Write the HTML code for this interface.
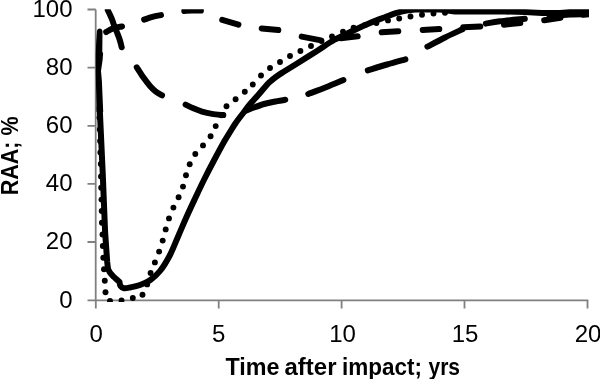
<!DOCTYPE html>
<html>
<head>
<meta charset="utf-8">
<title>RAA vs time after impact</title>
<style>
html,body{margin:0;padding:0;background:#fff;}
body{width:600px;height:379px;overflow:hidden;}
svg{display:block;}
text{font-family:"Liberation Sans","DejaVu Sans",sans-serif;fill:#000;}
.tick{font-size:24px;}
.title{font-size:23px;font-weight:bold;}
.ax{stroke:#808080;stroke-width:1.8;fill:none;}
.ln{stroke:#000;stroke-width:6.0;fill:none;stroke-linecap:round;stroke-linejoin:round;}
</style>
</head>
<body>
<svg width="600" height="379" viewBox="0 0 600 379">
<rect x="0" y="0" width="600" height="379" fill="#fff"/>
<defs>
<clipPath id="plot"><rect x="95.4" y="9.3" width="493.6" height="292.6"/></clipPath>
</defs>

<!-- axes -->
<g class="ax">
<path d="M95.7 9.5V300.3"/>
<path d="M87.5 9.5H95.8M87.5 67.6H95.8M87.5 125.8H95.8M87.5 183.9H95.8M87.5 242.0H95.8M87.5 300.3H95.8"/>
<path d="M95 300.3H588.3"/>
<path d="M95.8 300.3V308.5M218.7 300.3V308.5M341.6 300.3V308.5M464.5 300.3V308.5M587.5 300.3V308.5"/>
</g>

<!-- y tick labels -->
<g class="tick" text-anchor="end">
<text x="72.5" y="16.8">100</text>
<text x="72.5" y="74.9">80</text>
<text x="72.5" y="133.1">60</text>
<text x="72.5" y="191.2">40</text>
<text x="72.5" y="249.3">20</text>
<text x="72.5" y="307.6">0</text>
</g>
<!-- x tick labels -->
<g class="tick" text-anchor="middle">
<text x="96.3" y="341.5">0</text>
<text x="218.7" y="341.5">5</text>
<text x="342.5" y="341.5">10</text>
<text x="465.0" y="341.5">15</text>
<text x="588.0" y="341.5">20</text>
</g>
<text class="title" y="375"><tspan x="225.5" textLength="54" lengthAdjust="spacingAndGlyphs">Time</tspan><tspan x="284.5" textLength="52" lengthAdjust="spacingAndGlyphs">after</tspan><tspan x="342" textLength="80" lengthAdjust="spacingAndGlyphs">impact;</tspan><tspan x="428.5" textLength="31.5" lengthAdjust="spacingAndGlyphs">yrs</tspan></text>
<text class="title" transform="translate(18,195.3) rotate(-90)" textLength="79" lengthAdjust="spacingAndGlyphs">RAA; %</text>

<g clip-path="url(#plot)">
<!-- long dashed series -->
<g class="ln" id="longdash">
<path d="M107.80 10.30 C108.18 11.08 109.35 13.38 110.10 15.00 C110.85 16.62 111.72 18.50 112.30 20.00 C112.88 21.50 112.85 22.00 113.60 24.00 C114.35 26.00 115.77 29.33 116.80 32.00 C117.83 34.67 118.98 37.45 119.80 40.00 C120.62 42.55 121.38 46.08 121.70 47.30"/>
<path d="M136.80 67.30 C137.88 68.97 141.10 74.18 143.30 77.30 C145.50 80.42 147.97 83.67 150.00 86.00 C152.03 88.33 153.50 89.75 155.50 91.30 C157.50 92.85 160.92 94.63 162.00 95.30"/>
<path d="M185.60 104.60 C187.00 105.27 191.27 107.43 194.00 108.60 C196.73 109.77 199.00 110.72 202.00 111.60 C205.00 112.48 208.45 113.32 212.00 113.90 C215.55 114.48 221.42 114.90 223.30 115.10"/>
<path d="M246.50 110.50 C247.58 110.05 250.08 108.88 253.00 107.80 C255.92 106.72 260.50 105.02 264.00 104.00 C267.50 102.98 270.45 102.40 274.00 101.70 C277.55 101.00 283.42 100.12 285.30 99.80"/>
<path d="M308.30 94.00 C311.25 92.88 320.15 89.63 326.00 87.30 C331.85 84.97 340.50 81.22 343.40 80.00"/>
<path d="M367.80 70.40 C371.00 69.42 380.73 66.35 387.00 64.50 C393.27 62.65 402.33 60.17 405.40 59.30"/>
<path d="M427.40 46.70 C430.33 45.17 439.15 40.40 445.00 37.50 C450.85 34.60 459.58 30.67 462.50 29.30"/>
<path d="M485.80 23.60 C488.17 23.22 493.50 22.10 500.00 21.30 C506.50 20.50 520.67 19.22 524.80 18.80"/>
<path d="M549.70 16.30 C553.08 16.00 562.95 14.92 570.00 14.50 C577.05 14.08 588.33 13.92 592.00 13.80"/>
</g>
<!-- short dashed series -->
<g class="ln" id="shortdash">
<path d="M106.20 32.00 C107.33 31.40 110.37 29.32 113.00 28.40 C115.63 27.48 120.50 26.82 122.00 26.50"/>
<path d="M144.10 19.60 C145.50 19.15 149.68 17.65 152.50 16.90 C155.32 16.15 159.58 15.40 161.00 15.10"/>
<path d="M184.30 11.00 C185.58 10.92 189.23 10.57 192.00 10.50 C194.77 10.43 199.42 10.58 200.90 10.60"/>
<path d="M222.20 19.80 L238.40 24.60"/>
<path d="M261.70 28.40 L278.30 30.10"/>
<path d="M301.70 36.60 L321.00 40.40"/>
<path d="M340.70 38.30 L357.70 36.30"/>
<path d="M381.70 32.20 L398.30 31.20"/>
<path d="M422.70 29.90 L439.30 29.10"/>
<path d="M463.30 27.30 L480.30 26.50"/>
<path d="M504.00 24.70 L520.30 23.00"/>
<path d="M544.20 20.30 L560.50 17.80"/>
<path d="M583.00 14.80 L595.00 13.50"/>
</g>
<!-- dotted series -->
<g fill="#000" id="dots">
<circle cx="99.5" cy="117.6" r="2.95"/>
<circle cx="99.8" cy="129.4" r="2.95"/>
<circle cx="100.1" cy="141.0" r="2.95"/>
<circle cx="100.4" cy="152.5" r="2.95"/>
<circle cx="100.8" cy="164.0" r="2.95"/>
<circle cx="101.0" cy="176.4" r="2.95"/>
<circle cx="101.2" cy="187.7" r="2.95"/>
<circle cx="101.5" cy="199.6" r="2.95"/>
<circle cx="101.7" cy="211.0" r="2.95"/>
<circle cx="101.9" cy="222.7" r="2.95"/>
<circle cx="102.5" cy="234.5" r="2.95"/>
<circle cx="102.8" cy="246.0" r="2.95"/>
<circle cx="103.3" cy="257.8" r="2.95"/>
<circle cx="104.0" cy="269.2" r="2.95"/>
<circle cx="104.8" cy="280.8" r="2.95"/>
<circle cx="105.5" cy="292.3" r="2.95"/>
<circle cx="110.0" cy="301.0" r="2.95"/>
<circle cx="121.5" cy="300.5" r="2.95"/>
<circle cx="132.8" cy="298.0" r="2.95"/>
<circle cx="142.5" cy="294.8" r="2.95"/>
<circle cx="147.2" cy="284.4" r="2.95"/>
<circle cx="150.6" cy="273.0" r="2.95"/>
<circle cx="154.9" cy="262.4" r="2.95"/>
<circle cx="159.1" cy="251.6" r="2.95"/>
<circle cx="162.7" cy="240.6" r="2.95"/>
<circle cx="165.7" cy="229.4" r="2.95"/>
<circle cx="169.0" cy="218.4" r="2.95"/>
<circle cx="173.4" cy="207.6" r="2.95"/>
<circle cx="178.6" cy="197.3" r="2.95"/>
<circle cx="183.0" cy="186.6" r="2.95"/>
<circle cx="186.0" cy="175.3" r="2.95"/>
<circle cx="189.7" cy="164.3" r="2.95"/>
<circle cx="195.3" cy="154.0" r="2.95"/>
<circle cx="203.0" cy="145.4" r="2.95"/>
<circle cx="210.6" cy="136.2" r="2.95"/>
<circle cx="215.7" cy="126.1" r="2.95"/>
<circle cx="221.6" cy="115.2" r="2.95"/>
<circle cx="226.5" cy="106.3" r="2.95"/>
<circle cx="235.6" cy="99.2" r="2.95"/>
<circle cx="244.8" cy="91.8" r="2.95"/>
<circle cx="252.8" cy="84.5" r="2.95"/>
<circle cx="261.0" cy="75.5" r="2.95"/>
<circle cx="270.0" cy="68.0" r="2.95"/>
<circle cx="280.0" cy="62.0" r="2.95"/>
<circle cx="290.0" cy="56.0" r="2.95"/>
<circle cx="300.4" cy="51.0" r="2.95"/>
<circle cx="311.0" cy="46.0" r="2.95"/>
<circle cx="321.5" cy="41.0" r="2.95"/>
<circle cx="332.0" cy="36.4" r="2.95"/>
<circle cx="343.0" cy="31.6" r="2.95"/>
<circle cx="353.6" cy="27.6" r="2.95"/>
<circle cx="365.0" cy="25.0" r="2.95"/>
<circle cx="376.4" cy="23.0" r="2.95"/>
<circle cx="388.0" cy="20.4" r="2.95"/>
<circle cx="399.2" cy="18.5" r="2.95"/>
<circle cx="410.5" cy="16.5" r="2.95"/>
<circle cx="422.0" cy="14.7" r="2.95"/>
<circle cx="433.5" cy="13.5" r="2.95"/>
<circle cx="445.0" cy="12.8" r="2.95"/>
</g>
<!-- solid series -->
<g id="solid">
<path fill="#000" d="M96.9 31.4 C97 27.4 102.4 27.4 102.5 31.4 L102.3 52 L103.1 53 L102.6 60 L101 71 L101.9 81 L103.2 112 L96.6 112 L96.2 93 L95.6 71 L95.6 55 L96.2 42 Z"/>
<path class="ln" d="M99.70 108.00 L102.75 174.00 L105.10 232.00 L107.20 262.00 L108.00 269.00 C108.42 269.72 109.50 271.97 110.50 273.30 C111.50 274.63 112.92 275.92 114.00 277.00 C115.08 278.08 116.08 278.97 117.00 279.80 C117.92 280.63 119.08 281.63 119.50 282.00 C119.67 282.67 119.75 284.97 120.50 286.00 C121.25 287.03 122.42 287.95 124.00 288.20 C125.58 288.45 127.33 288.03 130.00 287.50 C132.67 286.97 136.67 286.22 140.00 285.00 C143.33 283.78 146.67 282.53 150.00 280.20 C153.33 277.87 156.67 275.20 160.00 271.00 C163.33 266.80 166.95 260.83 170.00 255.00 C173.05 249.17 175.55 242.33 178.30 236.00 C181.05 229.67 183.67 223.33 186.50 217.00 C189.33 210.67 192.32 204.33 195.30 198.00 C198.28 191.67 201.25 185.33 204.40 179.00 C207.55 172.67 210.85 166.33 214.20 160.00 C217.55 153.67 221.87 145.67 224.50 141.00 C227.13 136.33 228.13 135.00 230.00 132.00 C231.87 129.00 233.37 126.33 235.70 123.00 C238.03 119.67 241.73 115.00 244.00 112.00 C246.27 109.00 246.93 107.83 249.30 105.00 C251.67 102.17 255.33 98.30 258.20 95.00 C261.07 91.70 264.53 87.42 266.50 85.20 C268.47 82.98 268.33 83.15 270.00 81.70 C271.67 80.25 274.28 78.12 276.50 76.50 C278.72 74.88 279.93 74.13 283.30 72.00 C286.67 69.87 291.08 67.20 296.70 63.70 C302.32 60.20 310.78 54.95 317.00 51.00 C323.22 47.05 328.17 43.30 334.00 40.00 C339.83 36.70 346.00 34.03 352.00 31.20 C358.00 28.37 364.50 25.33 370.00 23.00 C375.50 20.67 380.83 18.80 385.00 17.20 C389.17 15.60 391.67 14.48 395.00 13.40 C398.33 12.32 401.67 11.35 405.00 10.70 C408.33 10.05 413.33 9.70 415.00 9.50 L440.00 9.50 L455.00 11.50 L505.00 11.50 L525.00 12.00 L542.00 13.10 L560.00 13.10 L570.00 12.00 L595.00 12.00"/>
</g>
</g>
</svg>
</body>
</html>
